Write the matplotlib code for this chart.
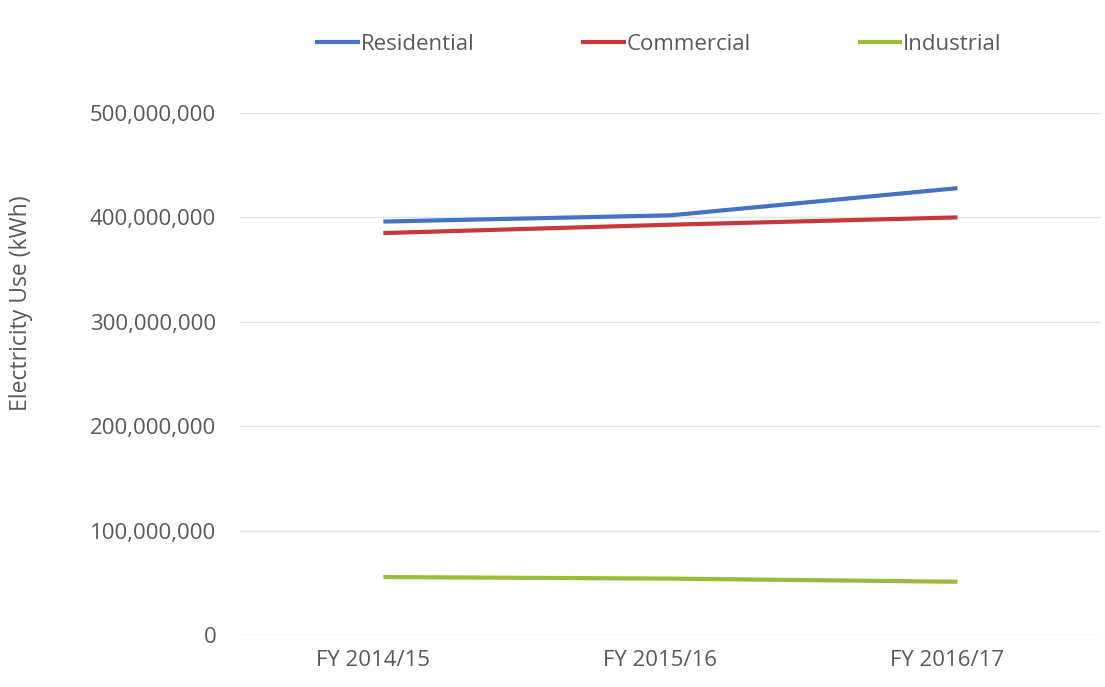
import matplotlib.pyplot as plt
from matplotlib.ticker import FuncFormatter
from matplotlib.transforms import ScaledTranslation

# data
years = ["FY 2014/15", "FY 2015/16", "FY 2016/17"]
residential = [396e6, 402e6, 428e6]
commercial = [385e6, 393e6, 400e6]
industrial = [55.5e6, 54e6, 51e6]
yticks = [0, 100e6, 200e6, 300e6, 400e6, 500e6]

plt.rcParams["font.family"] = ["Open Sans", "DejaVu Sans"]
text_gray = "#595959"

fig = plt.figure(figsize=(11.05, 6.87), dpi=100)
ax = fig.add_axes([0.217, 0.0757, 0.7794, 0.7598])

x = range(len(years))
ax.plot(x, residential, color="#4472C4", lw=3, label="Residential", solid_capstyle="butt")
ax.plot(x, commercial, color="#C8373A", lw=3, label="Commercial", solid_capstyle="butt")
ax.plot(x, industrial, color="#9BBB3B", lw=3, label="Industrial", solid_capstyle="butt")

ax.set_xlim(-0.5, len(years) - 0.5)
ax.set_ylim(0, 500e6)
ax.set_xticks(list(x))
ax.set_xticklabels(years)
ax.set_yticks(yticks)
ax.yaxis.set_major_formatter(FuncFormatter(lambda v, p: f"{int(v):,}"))
ax.tick_params(axis="y", length=0, pad=17, labelsize=16, labelcolor=text_gray)
ax.tick_params(axis="x", length=0, pad=11, labelsize=16, labelcolor=text_gray)

# x labels sit a little left of the category centers in the original
shift = ScaledTranslation(-10 / 100, 0, fig.dpi_scale_trans)
for lbl in ax.get_xticklabels():
    lbl.set_transform(lbl.get_transform() + shift)

ax.grid(axis="y", color="#E3E3E3", lw=1)
ax.set_axisbelow(True)
for s in ax.spines.values():
    s.set_visible(False)

ax.set_ylabel("Electricity Use (kWh)", fontsize=16.5, color=text_gray)
ax.yaxis.set_label_coords(-0.24, 0.635)

ax.legend(loc="center", bbox_to_anchor=(0.486, 1.131), ncol=3, frameon=False,
          fontsize=16, labelcolor=text_gray, handlelength=2.0, handletextpad=0.05,
          columnspacing=4.8)

fig.savefig("out.png", dpi=100, facecolor="white")
